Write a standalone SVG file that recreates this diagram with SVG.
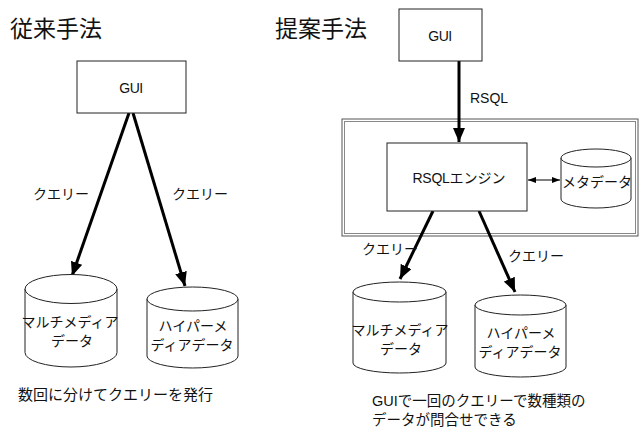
<svg xmlns="http://www.w3.org/2000/svg" width="642" height="428" viewBox="0 0 642 428">
<defs>
<style>
.box{fill:#fff;stroke:#222;stroke-width:1}
.cyl{fill:#fff;stroke:#222;stroke-width:1}
.jp{font-family:"Noto Sans CJK JP","Liberation Sans",sans-serif;fill:#111}
.en{font-family:"Liberation Sans",Arial,sans-serif;fill:#111}
.arr{stroke:#000;stroke-width:3;fill:none;marker-end:url(#ah)}
.darr{stroke:#000;stroke-width:1;fill:none;marker-start:url(#sh);marker-end:url(#sh)}
</style>
<marker id="ah" markerUnits="userSpaceOnUse" viewBox="0 0 14 12" refX="14" refY="6" markerWidth="14" markerHeight="12" orient="auto">
<path d="M0,0 L14,6 L0,12 Z" fill="#000"/>
</marker>
<marker id="sh" markerUnits="userSpaceOnUse" viewBox="0 0 8 6" refX="8" refY="3" markerWidth="8" markerHeight="6" orient="auto-start-reverse">
<path d="M0,0 L8,3 L0,6 Z" fill="#000"/>
</marker>
</defs>
<rect width="642" height="428" fill="#fff"/>

<text class="jp" x="10" y="37" font-size="23" fill="#222">従来手法</text>
<text class="jp" x="275" y="37" font-size="23" fill="#222">提案手法</text>

<g id="container">
<rect x="342" y="119" width="296" height="117" fill="none" stroke="#555" stroke-width="1"/>
<rect x="344.5" y="121.5" width="291" height="112" fill="none" stroke="#888" stroke-width="1"/>
</g>

<g id="connectors">
<line class="arr" x1="129" y1="113" x2="72" y2="276"/>
<line class="arr" x1="133" y1="113" x2="185" y2="286"/>
<line class="arr" x1="459" y1="61" x2="459" y2="142"/>
<line class="arr" x1="433" y1="211" x2="400" y2="279"/>
<line class="arr" x1="479" y1="211" x2="515" y2="292"/>
<line class="darr" x1="528" y1="180" x2="560" y2="180"/>
<text class="jp" x="33" y="199" font-size="14">クエリー</text>
<text class="jp" x="172" y="199" font-size="14">クエリー</text>
<text class="en" x="470" y="103" font-size="14">RSQL</text>
<text class="jp" x="362" y="254" font-size="14">クエリー</text>
<text class="jp" x="508" y="261" font-size="14">クエリー</text>
</g>

<g id="gui-left">
<rect class="box" x="77" y="61" width="109" height="52"/>
<text class="en" x="131" y="93" font-size="14" text-anchor="middle" letter-spacing="-0.5">GUI</text>
</g>

<g id="multimedia-left">
<path class="cyl" d="M25,289 L25,352.5 A46,14.5 0 0 0 117,352.5 L117,289"/>
<ellipse class="cyl" cx="71" cy="289" rx="46" ry="14.5"/>
<text class="jp" x="70" y="327" font-size="14" text-anchor="middle">マルチメディア</text>
<text class="jp" x="72" y="346" font-size="14" text-anchor="middle">データ</text>
</g>

<g id="hypermedia-left">
<path class="cyl" d="M147,299 L147,356 A45.5,12 0 0 0 238,356 L238,299"/>
<ellipse class="cyl" cx="192.5" cy="299" rx="45.5" ry="12"/>
<text class="jp" x="193" y="331" font-size="14" text-anchor="middle">ハイパーメ</text>
<text class="jp" x="192" y="350" font-size="14" text-anchor="middle">ディアデータ</text>
</g>

<text class="jp" x="18" y="400" font-size="15">数回に分けてクエリーを発行</text>

<g id="gui-right">
<rect class="box" x="399" y="9" width="83" height="52"/>
<text class="en" x="440" y="41" font-size="14" text-anchor="middle" letter-spacing="-0.5">GUI</text>
</g>

<g id="rsql-engine">
<rect class="box" x="387" y="143" width="140" height="68"/>
<text x="459" y="183" font-size="14" text-anchor="middle"><tspan class="en" letter-spacing="-0.3">RSQL</tspan><tspan class="jp">エンジン</tspan></text>
</g>

<g id="metadata">
<path class="cyl" d="M561,158 L561,199 A35,9 0 0 0 631,199 L631,158"/>
<ellipse class="cyl" cx="596" cy="158" rx="35" ry="9"/>
<text class="jp" x="597" y="187" font-size="14" text-anchor="middle">メタデータ</text>
</g>

<g id="multimedia-right">
<path class="cyl" d="M353,292 L353,363 A46.5,10 0 0 0 446,363 L446,292"/>
<ellipse class="cyl" cx="399.5" cy="292" rx="46.5" ry="10"/>
<text class="jp" x="400" y="335" font-size="14" text-anchor="middle">マルチメディア</text>
<text class="jp" x="401" y="354" font-size="14" text-anchor="middle">データ</text>
</g>

<g id="hypermedia-right">
<path class="cyl" d="M475,305 L475,367 A45.5,10 0 0 0 566,367 L566,305"/>
<ellipse class="cyl" cx="520.5" cy="305" rx="45.5" ry="10"/>
<text class="jp" x="521" y="338" font-size="14" text-anchor="middle">ハイパーメ</text>
<text class="jp" x="520" y="357" font-size="14" text-anchor="middle">ディアデータ</text>
</g>

<text class="jp" x="372" y="406" font-size="14.5"><tspan class="en">GUI</tspan>で一回のクエリーで数種類の</text>
<text class="jp" x="372" y="425" font-size="14.5">データが問合せできる</text>
</svg>
